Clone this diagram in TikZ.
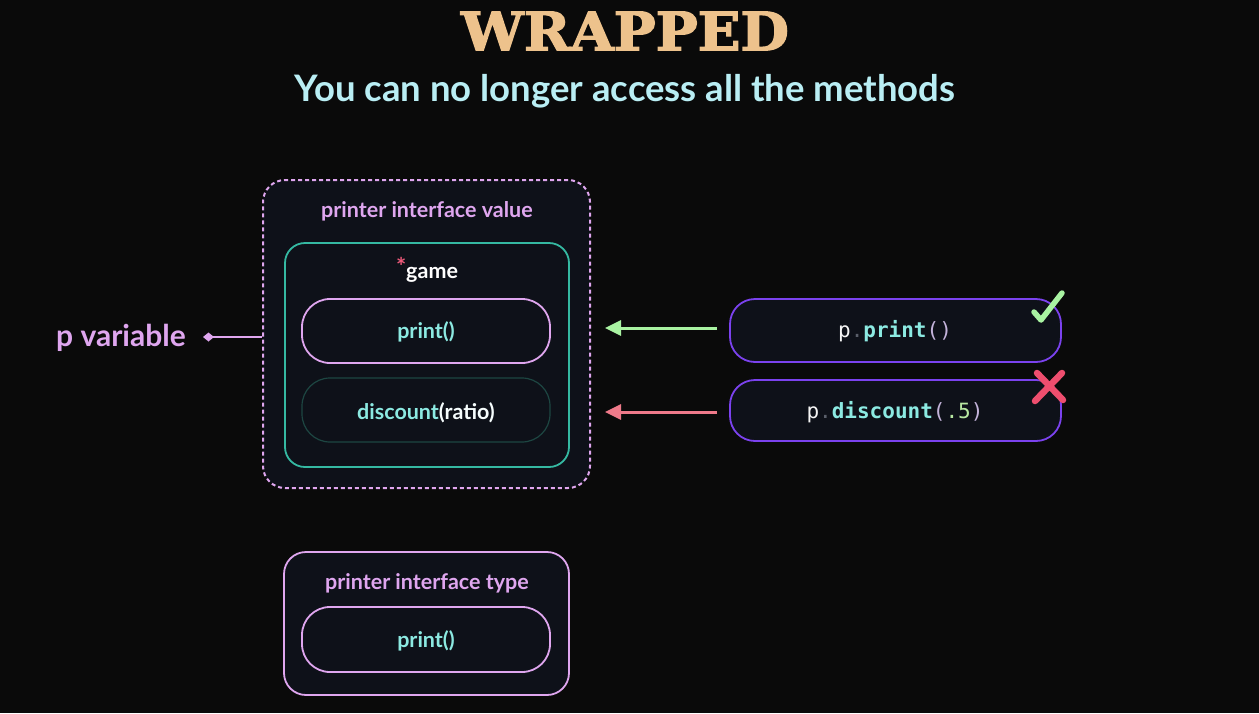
\documentclass[tikz,border=0pt]{standalone}
\usepackage{fontspec}
\setmainfont{Lato}
\newfontfamily\titlefont{DejaVu Serif}[FakeBold=2.5]
\setmonofont{DejaVu Sans Mono}
\usetikzlibrary{arrows.meta}
\definecolor{bg}{HTML}{0A0A0A}
\definecolor{boxfill}{HTML}{0E1119}
\definecolor{tan}{HTML}{EDC28C}
\definecolor{subcol}{HTML}{B9EEF4}
\definecolor{lilac}{HTML}{DFA6EF}
\definecolor{tealline}{HTML}{35B9A2}
\definecolor{darkteal}{HTML}{1D4642}
\definecolor{cyantext}{HTML}{8CEAE2}
\definecolor{purpleline}{HTML}{7B42EE}
\definecolor{greenarrow}{HTML}{A9F3A2}
\definecolor{redarrow}{HTML}{EF7A8A}
\definecolor{redx}{HTML}{EE4E6E}
\definecolor{dotgray}{HTML}{5A5F6A}
\definecolor{parencol}{HTML}{C3B3DA}
\definecolor{numgreen}{HTML}{B8E8A2}
\definecolor{starred}{HTML}{EE5A7A}
\begin{document}
\begin{tikzpicture}[x=1pt,y=-1pt,
  box/.style={draw, fill=boxfill, line width=1.8pt, inner sep=0pt, rectangle},
  lbl/.style={inner sep=0pt, anchor=base},
  sans/.style={font=\bfseries\fontsize{21.5}{24}\selectfont},
  code/.style={font=\ttfamily\fontsize{21}{24}\selectfont},
  arr/.style={line width=3pt, -{Triangle[length=16pt,width=15pt]}}
]
\fill[bg] (0,0) rectangle (1259,713);
\useasboundingbox (0,0) rectangle (1259,713);

% title
\node[inner sep=0pt, text=tan, font=\titlefont\bfseries\fontsize{53}{53}\selectfont, xscale=1.055] (title) at (625,31) {WRAPPED};
\node[lbl, text=subcol, font=\bfseries\fontsize{36.5}{40}\selectfont] (sub) at (625,101) {You can no longer access all the methods};

% outer dashed box
\node[box, draw=lilac, dash pattern=on 4pt off 3pt, line width=2pt, minimum width=327pt, minimum height=308pt, rounded corners=22pt] (outer) at (426.5,334) {};
\node[lbl, sans, text=lilac] (valtitle) at (427,217) {printer interface value};

% teal box
\node[box, draw=tealline, minimum width=284pt, minimum height=224pt, rounded corners=20pt] (game) at (427,355) {};
\node[lbl, sans, text=white] (gametitle) at (427,278) {\textcolor{starred}{\raisebox{3pt}{\fontsize{24}{24}\selectfont *}}game};

\node[box, draw=lilac, minimum width=248pt, minimum height=64pt, rounded corners=28pt] (printA) at (426,331) {};
\node[lbl, sans, text=cyantext] (printAt) at (426,338) {print()};

\node[box, draw=darkteal, line width=1.2pt, minimum width=248pt, minimum height=64pt, rounded corners=28pt] (disc) at (426,410) {};
\node[lbl, sans, text=cyantext] (disct) at (426,419) {discount\textcolor{white!92!cyantext}{(ratio)}};

% p variable
\node[lbl, text=lilac, font=\bfseries\fontsize{30}{32}\selectfont] (pvar) at (121,346) {p variable};
\coordinate (pdot) at (203,337);
\draw[lilac, line width=2.4pt, {Diamond[length=11pt,width=9pt]}-] (pdot) -- (outer.west |- pdot);

% calls
\node[box, draw=purpleline, minimum width=331pt, minimum height=63pt, rounded corners=25pt] (callA) at (895.5,330.5) {};
\node[lbl, code] (callAt) at (895,337) {\textcolor{white!92!gray}{p}\textcolor{dotgray}{.}\textcolor{cyantext}{\bfseries print}\textcolor{parencol}{()}};
\node[box, draw=purpleline, minimum width=331pt, minimum height=61pt, rounded corners=25pt] (callB) at (895.5,410.5) {};
\node[lbl, code] (callBt) at (895,418) {\textcolor{white!92!gray}{p}\textcolor{dotgray}{.}\textcolor{cyantext}{\bfseries discount}\textcolor{parencol}{(}\textcolor{numgreen}{.5}\textcolor{parencol}{)}};

\draw[arr, greenarrow] ([xshift=-12pt]callA.west |- 0,328) -- ([xshift=14pt]outer.east |- 0,328);
\draw[arr, redarrow] ([xshift=-12pt]callB.west |- 0,412) -- ([xshift=14pt]outer.east |- 0,412);

% check and cross
\draw[greenarrow, line width=5.5pt, line cap=round, line join=round] (1034,312) -- (1041,320) -- (1062,293);
\draw[redx, line width=6.5pt, line cap=round] (1035,401) -- (1062,373) (1037,373) -- (1063,400);

% bottom box
\node[box, draw=lilac, minimum width=285pt, minimum height=143pt, rounded corners=22pt] (typebox) at (426.5,623.5) {};
\node[lbl, sans, text=lilac] (typetitle) at (427,589) {printer interface type};
\node[box, draw=lilac, minimum width=248pt, minimum height=65pt, rounded corners=28pt] (printB) at (426,639.5) {};
\node[lbl, sans, text=cyantext] (printBt) at (426,647) {print()};
\end{tikzpicture}
\end{document}
